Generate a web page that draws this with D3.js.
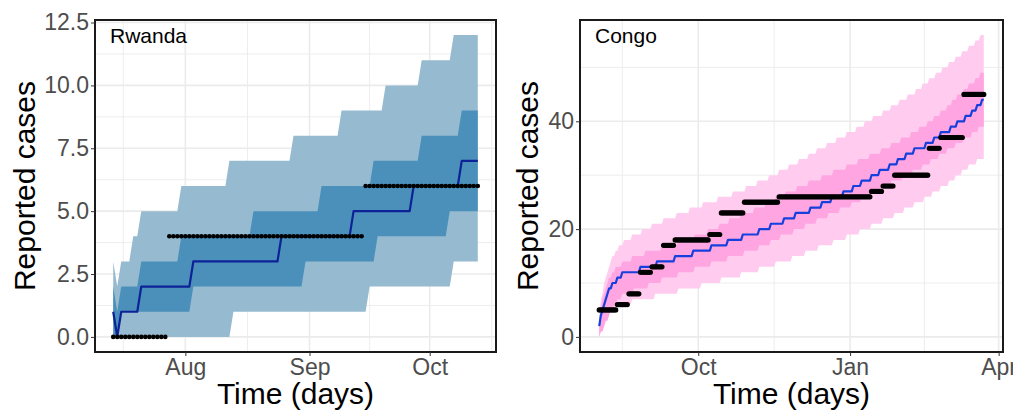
<!DOCTYPE html>
<meta charset="utf-8">
<style>
body { margin: 0; background: #fff; }
svg { font-family: "Liberation Sans", Arial, sans-serif; }
.tick text { fill: #4d4d4d; }
.tick line { stroke: #333; }
</style>
<body>
<script src="https://cdn.jsdelivr.net/npm/d3@7"></script>
<script>

// all series are daily runs: [value, number of days]
var rwandaStart = "2019-07-14";
var rwandaObserved = [[0,14],[4,49],[6,29]];
var rwandaMedian = [[1,1],[0,1],[1,5],[2,13],[3,22],[4,18],[5,15],[6,12],[7,5]];
var rwandaOuterHi = [[3,1],[2,1],[3,3],[4,2],[5,10],[6,12],[7,16],[8,12],[9,11],[10,9],[11,8],[12,7]];
var rwandaOuterLo = [[0,30],[1,34],[2,21],[3,7]];
var rwandaInnerHi = [[2,1],[1,1],[2,5],[3,10],[4,18],[5,17],[6,13],[7,12],[8,10],[9,5]];
var rwandaInnerLo = [[0,2],[1,18],[2,28],[3,18],[4,18],[5,8]];
var rwandaBreaks = ["2019-07-01","2019-08-01","2019-09-01","2019-10-01","2019-11-01"];
var rwandaYTicks = [0, 2.5, 5, 7.5, 10, 12.5];

var congoStart = "2018-08-02";
var congoObserved = [[5,11],[6,7],[8,7],[12,7],[13,7],[17,7],[18,21],[19,7],[23,14],[25,21],
  [26,56],[27,7],[28,7],[30,21],[35,7],[37,14],[45,13]];
var congoMedian = [[2,1],[4,1],[5,1],[6,1],[7,1],[8,1],[9,2],[10,3],[11,3],[12,11],[13,10],[14,11],
  [15,11],[16,11],[17,10],[18,9],[19,10],[20,7],[21,8],[22,7],[23,9],[24,7],[25,6],[26,7],[27,6],
  [28,5],[29,6],[30,5],[31,6],[32,5],[33,5],[34,5],[35,7],[36,5],[37,4],[38,6],[39,4],[40,5],
  [41,4],[42,3],[43,3],[44,2]];
var congoOuterHi = [[4,1],[7,1],[8,1],[10,1],[11,1],[12,1],[13,1],[14,1],[15,2],[16,2],[17,3],[18,5],
  [19,6],[20,6],[21,7],[22,8],[23,8],[24,8],[25,9],[26,9],[27,8],[28,7],[29,7],[30,6],[31,6],[32,6],
  [33,6],[34,5],[35,6],[36,6],[37,6],[38,6],[39,5],[40,5],[41,6],[42,5],[43,5],[44,5],[45,5],[46,4],
  [47,4],[48,4],[49,4],[50,4],[51,4],[52,4],[53,4],[54,4],[55,3],[56,3]];
var congoOuterLo = [[0,1],[1,1],[2,1],[3,1],[4,2],[5,4],[6,10],[7,14],[8,14],[9,14],[10,12],[11,12],
  [12,11],[13,10],[14,10],[15,8],[16,8],[17,9],[18,8],[19,8],[20,7],[21,7],[22,7],[23,6],[24,6],
  [25,6],[26,5],[27,5],[28,5],[29,4],[30,4],[31,4],[32,5],[33,5]];
var congoInnerHi = [[3,1],[5,1],[7,1],[8,1],[9,1],[10,1],[11,2],[12,2],[13,4],[14,6],[15,8],[16,10],
  [17,10],[18,10],[19,8],[20,7],[21,6],[22,7],[23,8],[24,7],[25,6],[26,6],[27,7],[28,7],[29,8],
  [30,7],[31,8],[32,7],[33,7],[34,7],[35,6],[36,6],[37,6],[38,5],[39,5],[40,4],[41,4],[42,4],
  [43,3],[44,3],[45,4],[46,3],[47,4],[48,3],[49,3]];
var congoInnerLo = [[0,1],[1,2],[2,1],[3,2],[4,1],[5,2],[6,2],[7,3],[8,7],[9,9],[10,8],[11,10],
  [12,10],[13,10],[14,10],[15,10],[16,9],[17,7],[18,6],[19,8],[20,7],[21,7],[22,7],[23,7],[24,7],
  [25,6],[26,6],[27,6],[28,6],[29,7],[30,6],[31,6],[32,5],[33,5],[34,5],[35,5],[36,5],[37,5],
  [38,4],[39,4]];
var congoBreaks = ["2018-07-01","2018-10-01","2019-01-01","2019-04-01"];
var congoYTicks = [0, 20, 40];

var W = 1013, H = 412;
var parse = d3.utcParse("%Y-%m-%d");

function expand(start, runs) {
  var t0 = parse(start), out = [];
  runs.forEach(function(r) {
    for (var i = 0; i < r[1]; i++) out.push({t: d3.utcDay.offset(t0, out.length), v: r[0]});
  });
  return out;
}

var svg = d3.select("body").append("svg")
  .attr("width", W).attr("height", H);
svg.append("rect").attr("width", W).attr("height", H).attr("fill", "#fff");

function panel(p) {
  var obs = expand(p.start, p.observed),
      med = expand(p.start, p.median),
      oh = expand(p.start, p.outerHi), ol = expand(p.start, p.outerLo),
      ih = expand(p.start, p.innerHi), il = expand(p.start, p.innerLo);

  var t0 = obs[0].t, t1 = obs[obs.length - 1].t, pad = (t1 - t0) * 0.05;
  var x = d3.scaleUtc().domain([new Date(+t0 - pad), new Date(+t1 + pad)]).range([p.x0, p.x1]);
  var y = d3.scaleLinear().domain(p.yDomain).range([p.y1, p.y0]);

  var breaks = p.breaks.map(parse);
  var minorX = d3.pairs(breaks).map(function(b) { return new Date((+b[0] + +b[1]) / 2); })
    .filter(function(d) { return d >= x.domain()[0] && d <= x.domain()[1]; });
  var majorX = breaks.filter(function(d) { return d >= x.domain()[0] && d <= x.domain()[1]; });
  var minorY = d3.pairs(p.yTicks).map(function(b) { return (b[0] + b[1]) / 2; });
  minorY.push(p.yTicks[p.yTicks.length - 1] + (p.yTicks[1] - p.yTicks[0]) / 2);
  minorY = minorY.filter(function(d) { return d <= p.yDomain[1]; });

  var g = svg.append("g");
  // grid
  g.selectAll(".gxm").data(minorX).enter().append("line")
    .attr("x1", x).attr("x2", x).attr("y1", p.y0).attr("y2", p.y1)
    .attr("stroke", "#ebebeb").attr("stroke-width", 0.9);
  g.selectAll(".gym").data(minorY).enter().append("line")
    .attr("y1", y).attr("y2", y).attr("x1", p.x0).attr("x2", p.x1)
    .attr("stroke", "#ebebeb").attr("stroke-width", 0.9);
  g.selectAll(".gx").data(majorX).enter().append("line")
    .attr("x1", x).attr("x2", x).attr("y1", p.y0).attr("y2", p.y1)
    .attr("stroke", "#ebebeb").attr("stroke-width", 1.6);
  g.selectAll(".gy").data(p.yTicks).enter().append("line")
    .attr("y1", y).attr("y2", y).attr("x1", p.x0).attr("x2", p.x1)
    .attr("stroke", "#ebebeb").attr("stroke-width", 1.6);

  // ribbons
  var outer = oh.map(function(d, i) { return {t: d.t, hi: d.v, lo: ol[i].v}; });
  var inner = ih.map(function(d, i) { return {t: d.t, hi: d.v, lo: il[i].v}; });
  var area = d3.area().x(function(d) { return x(d.t); })
    .y0(function(d) { return y(d.lo); }).y1(function(d) { return y(d.hi); });
  g.append("path").datum(outer).attr("d", area).attr("fill", p.outerColor);
  g.append("path").datum(inner).attr("d", area).attr("fill", p.innerColor);

  // median
  var line = d3.line().x(function(d) { return x(d.t); }).y(function(d) { return y(d.v); });
  g.append("path").datum(med).attr("d", line).attr("fill", "none")
    .attr("stroke", p.lineColor).attr("stroke-width", 2.2).attr("stroke-linejoin", "round");

  // observed
  g.selectAll(".pt").data(obs).enter().append("circle")
    .attr("cx", function(d) { return x(d.t); }).attr("cy", function(d) { return y(d.v); })
    .attr("r", p.r).attr("fill", "#000");

  // border
  g.append("rect").attr("x", p.x0).attr("y", p.y0)
    .attr("width", p.x1 - p.x0).attr("height", p.y1 - p.y0)
    .attr("fill", "none").attr("stroke", "#1a1a1a").attr("stroke-width", 2);

  // axes
  var ax = g.append("g").attr("transform", "translate(0," + p.y1 + ")")
    .call(d3.axisBottom(x).tickValues(majorX).tickFormat(d3.utcFormat("%b")).tickSize(4).tickPadding(3));
  var ay = g.append("g").attr("transform", "translate(" + p.x0 + ",0)")
    .call(d3.axisLeft(y).tickValues(p.yTicks).tickFormat(p.yFormat).tickSize(4).tickPadding(2));
  [ax, ay].forEach(function(a) {
    a.select(".domain").remove();
    a.selectAll("text").attr("font-size", 23).attr("font-family", null);
  });

  g.append("text").attr("x", p.x0 + 15).attr("y", p.y0 + 23)
    .attr("font-size", 21).attr("fill", "#000").text(p.name);
  g.append("text").attr("x", (p.x0 + p.x1) / 2).attr("y", 404)
    .attr("text-anchor", "middle").attr("font-size", 30).text("Time (days)");
  g.append("text").attr("transform", "translate(" + p.titleX + "," + (p.y0 + p.y1) / 2 + ") rotate(-90)")
    .attr("text-anchor", "middle").attr("font-size", 30).text("Reported cases");
}

panel({
  name: "Rwanda", start: rwandaStart, observed: rwandaObserved, median: rwandaMedian,
  outerHi: rwandaOuterHi, outerLo: rwandaOuterLo, innerHi: rwandaInnerHi, innerLo: rwandaInnerLo,
  breaks: rwandaBreaks, yTicks: rwandaYTicks, yDomain: [-0.6, 12.6], yFormat: d3.format(".1f"),
  x0: 95, x1: 496, y0: 20, y1: 352, titleX: 35, r: 2.3,
  outerColor: "#96bad0", innerColor: "#4b90bb", lineColor: "#0c2296"
});

panel({
  name: "Congo", start: congoStart, observed: congoObserved, median: congoMedian,
  outerHi: congoOuterHi, outerLo: congoOuterLo, innerHi: congoInnerHi, innerLo: congoInnerLo,
  breaks: congoBreaks, yTicks: congoYTicks, yDomain: [-2.8, 58.8], yFormat: d3.format("d"),
  x0: 580, x1: 1003, y0: 20, y1: 352, titleX: 538, r: 2.6,
  outerColor: "#ffcbef", innerColor: "#ffa6e2", lineColor: "#1640dc"
});

</script>
